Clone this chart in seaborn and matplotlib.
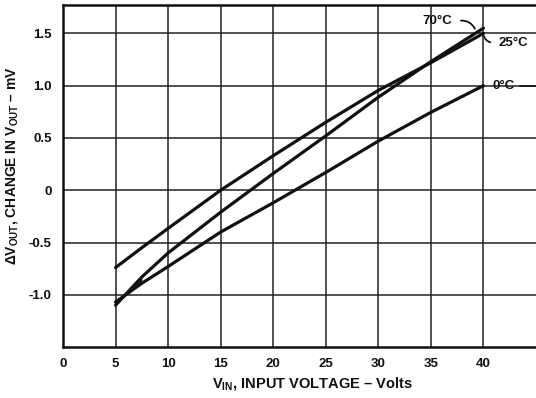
import matplotlib
matplotlib.use("Agg")
import matplotlib.pyplot as plt
import seaborn as sns
import pandas as pd

# ---- data ----
vin = [5, 7.5, 10, 15, 20, 25, 30, 35, 40]
dv_25c = [-0.74, -0.55, -0.365, 0.0, 0.33, 0.65, 0.955, 1.22, 1.50]
dv_70c = [-1.10, -0.83, -0.60, -0.21, 0.16, 0.52, 0.89, 1.23, 1.55]
dv_0c = [-1.07, -0.89, -0.73, -0.40, -0.12, 0.17, 0.47, 0.745, 1.00]
x_ticks = [0, 5, 10, 15, 20, 25, 30, 35, 40]
y_ticks = [-1.0, -0.5, 0.0, 0.5, 1.0, 1.5]
y_tick_labels = ["-1.0", "-0.5", "0", "0.5", "1.0", "1.5"]

df = pd.concat([
    pd.DataFrame({"vin": vin, "dv": dv_25c, "temp": "25°C"}),
    pd.DataFrame({"vin": vin, "dv": dv_70c, "temp": "70°C"}),
    pd.DataFrame({"vin": vin, "dv": dv_0c, "temp": "0°C"}),
])

sns.set_theme(style="white")
plt.rcParams["font.family"] = ["Liberation Sans", "DejaVu Sans"]
plt.rcParams["font.weight"] = "bold"
plt.rcParams["mathtext.fontset"] = "custom"
plt.rcParams["mathtext.rm"] = "Liberation Sans:bold"
plt.rcParams["mathtext.bf"] = "Liberation Sans:bold"
plt.rcParams["mathtext.it"] = "Liberation Sans:bold"

fig = plt.figure(figsize=(5.36, 3.98), dpi=100)
ax = fig.add_axes([0.1175, 0.128, 0.8825, 0.859])

ink = "#111111"
sns.lineplot(data=df, x="vin", y="dv", hue="temp", units="temp", estimator=None,
             palette={"25°C": ink, "70°C": ink, "0°C": ink}, linewidth=2.3,
             legend=False, ax=ax, sort=False)
# small filled wedge where the lower curves meet at 5 V
ax.fill_between(vin[:2], dv_70c[:2], dv_0c[:2], color=ink, lw=0)

ax.set_xlim(0, 45)
ax.set_ylim(-1.5, 1.77)
ax.set_xticks(x_ticks)
ax.set_yticks(y_ticks)
ax.set_yticklabels(y_tick_labels)
ax.grid(True, color="#222222", linewidth=1.1)
for s in ["left", "bottom", "top"]:
    ax.spines[s].set_color(ink)
    ax.spines[s].set_linewidth(1.8)
ax.spines["right"].set_visible(False)
ax.tick_params(length=0, labelsize=9.5, colors=ink, pad=8)
for t in ax.get_xticklabels() + ax.get_yticklabels():
    t.set_fontweight("bold")
ax.set_xlabel("")
ax.set_ylabel("")

fs_lab = 9.5
# curve labels
ax.text(35.6, 1.62, "70°C", fontsize=fs_lab, fontweight="bold", color=ink, va="center", ha="center")
ax.annotate("", xy=(39.3, 1.52), xytext=(37.6, 1.62),
            arrowprops=dict(arrowstyle="-", color=ink, lw=1.3,
                            connectionstyle="arc3,rad=-0.4"))
ax.text(42.8, 1.41, "25°C", fontsize=fs_lab, fontweight="bold", color=ink, va="center", ha="center")
ax.annotate("", xy=(40.0, 1.50), xytext=(40.9, 1.41),
            arrowprops=dict(arrowstyle="-", color=ink, lw=1.3,
                            connectionstyle="arc3,rad=-0.4"))
ax.text(41.9, 1.0, "0°C", fontsize=fs_lab, fontweight="bold", color=ink, va="center", ha="center")
ax.plot([43.5, 45], [1.0, 1.0], color=ink, lw=1.2, clip_on=False)

fig.text(0.582, 0.037, r"$\mathregular{V_{IN}}$, INPUT VOLTAGE – Volts",
         fontsize=10.5, fontweight="bold", color=ink, ha="center", va="center")
fig.text(0.022, 0.583, r"$\mathregular{\Delta V_{OUT}}$, CHANGE IN $\mathregular{V_{OUT}}$ – mV",
         fontsize=10, fontweight="bold", color=ink, ha="center", va="center", rotation=90)

fig.savefig("out.png", dpi=100, facecolor="white")
